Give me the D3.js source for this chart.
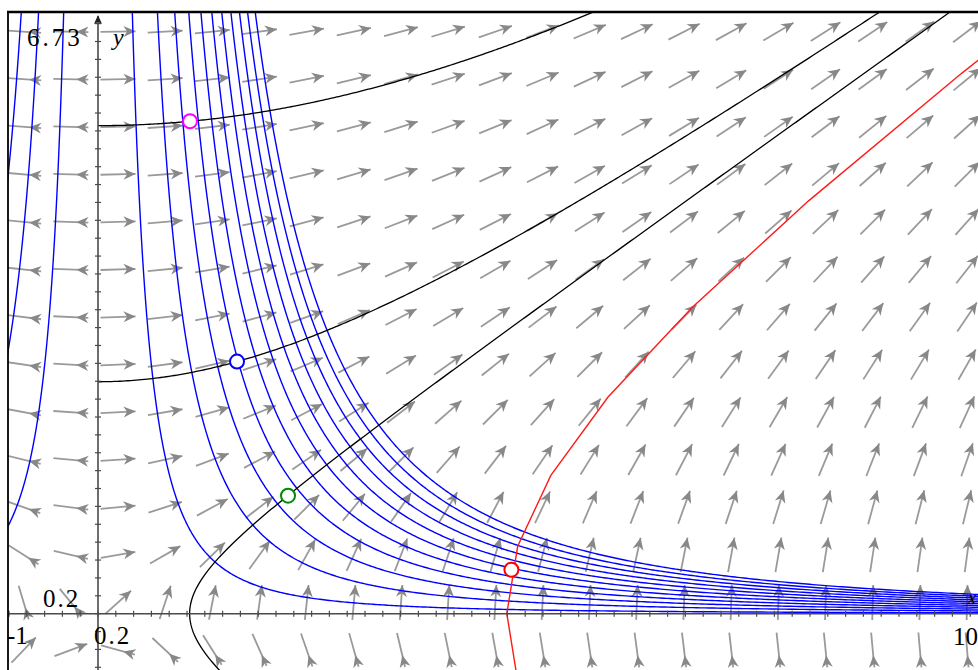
<!DOCTYPE html>
<html>
<head>
<meta charset="utf-8">
<script src="https://cdn.jsdelivr.net/npm/d3@7"></script>
<style>
  body { margin: 0; background: #fff; }
  svg { display: block; }
</style>
</head>
<body>
<script>
// window
const xDomain = [-1, 10];
const yDomain = [-0.63, 6.73];

// blue family: x^2 * y = c
const blueLevels = [1, 3, 5, 7, 9, 11, 13, 15, 17, 19, 21];
// black trajectories: y^2 - x^2/2 = C
const blackLevels = [29.8, 6.73, -0.53];
// red trajectory, same family
const redLevel = -10.55;

// direction field sample points
const gridX = [-0.835, -0.305, 0.225, 0.755, 1.285, 1.815, 2.345, 2.875, 3.405, 3.935, 4.465,
               4.995, 5.525, 6.055, 6.585, 7.115, 7.645, 8.175, 8.705, 9.235, 9.765];
const gridY = [6.51, 5.978, 5.446, 4.914, 4.382, 3.85, 3.318, 2.786, 2.254, 1.722, 1.19, 0.658, 0.126, -0.406];

// marked points
const pointX = [1.034, 1.562, 2.135, 4.645];
const pointY = [5.508, 2.82, 1.32, 0.492];
const pointColors = ['#ff00ff', '#0000ff', '#008c00', '#ff0000'];

// window labels
const xMinLabel = '-1', xMaxLabel = '10', yMaxLabel = '6.73', scaleLabel = '0.2';

const width = 978, height = 670;
const plot = { left: 8, top: 12, right: 978, bottom: 670 };

const svg = d3.select('body').append('svg').attr('width', width).attr('height', height);

const x = d3.scaleLinear().domain(xDomain).range([9, 988]);
const y = d3.scaleLinear().domain(yDomain).range([670, 12]);

svg.append('clipPath').attr('id', 'clip')
  .append('rect')
  .attr('x', plot.left).attr('y', plot.top)
  .attr('width', plot.right - plot.left).attr('height', plot.bottom - plot.top);

const g = svg.append('g').attr('clip-path', 'url(#clip)');

// direction field: x' = 2xy, y' = x^2
const field = (px, py) => [2 * px * py, px * px];

const arrows = [];
gridY.forEach((gy) => gridX.forEach((gx) => arrows.push({ gx, gy })));

const L = 35, headLen = 12, headHalf = 5.5;
const arrowG = g.append('g');
arrows.forEach((a) => {
  const [dx, dy] = field(a.gx, a.gy);
  let ux = x(a.gx + dx * 1e-3) - x(a.gx);
  let uy = y(a.gy + dy * 1e-3) - y(a.gy);
  const n = Math.hypot(ux, uy);
  ux /= n; uy /= n;
  const sgn = ux >= 0 ? 1 : -1;
  const wx = ux * sgn, wy = uy * sgn;
  const cx = x(a.gx), cy = y(a.gy);
  const p1 = [cx - wx * L / 2, cy - wy * L / 2];
  const p2 = [cx + wx * L / 2, cy + wy * L / 2];
  let tip, base;
  if (sgn > 0) {
    tip = p2; base = [p2[0] - wx * headLen, p2[1] - wy * headLen];
  } else {
    base = p2; tip = [p2[0] - wx * headLen, p2[1] - wy * headLen];
  }
  const px = -uy, py = ux;
  const notch = [base[0] + (tip[0] - base[0]) * 0.3, base[1] + (tip[1] - base[1]) * 0.3];
  arrowG.append('line')
    .attr('x1', p1[0]).attr('y1', p1[1]).attr('x2', p2[0]).attr('y2', p2[1])
    .attr('stroke', '#9a9a9a').attr('stroke-width', 1.8);
  arrowG.append('path')
    .attr('d', `M${tip}L${base[0] + px * headHalf},${base[1] + py * headHalf}L${notch}L${base[0] - px * headHalf},${base[1] - py * headHalf}Z`)
    .attr('fill', '#888');
});

const line = d3.line().x((d) => x(d[0])).y((d) => y(d[1]));

// blue curves y = c / x^2, both sides
blueLevels.forEach((c) => {
  [-1, 1].forEach((s) => {
    const x0 = Math.sqrt(c / 6.9);
    const pts = d3.range(0, 401).map((i) => {
      const xv = s * x0 * Math.exp(i / 400 * Math.log(10.3 / x0));
      return [xv, c / (xv * xv)];
    });
    g.append('path').datum(pts).attr('d', line)
      .attr('fill', 'none').attr('stroke', '#0000ff').attr('stroke-width', 1.4);
  });
});

// axes
const axisColor = '#4a4a4a';
const axG = svg.append('g');
axG.append('line').attr('x1', plot.left).attr('x2', plot.right).attr('y1', y(0)).attr('y2', y(0))
  .attr('stroke', axisColor).attr('stroke-width', 1.6);
axG.append('line').attr('x1', x(0)).attr('x2', x(0)).attr('y1', plot.top + 4).attr('y2', plot.bottom)
  .attr('stroke', axisColor).attr('stroke-width', 1.6);
axG.append('path')
  .attr('d', `M${x(0)},${plot.top + 3}l-4,9l4,-2l4,2Z`).attr('fill', '#222');
axG.selectAll('.xt').data(d3.range(-5, 51).map((k) => k * 0.2)).enter().append('line')
  .attr('x1', (d) => x(d)).attr('x2', (d) => x(d)).attr('y1', y(0) - 3).attr('y2', y(0) + 3)
  .attr('stroke', axisColor).attr('stroke-width', 1.2);
axG.selectAll('.yt').data(d3.range(-3, 34).map((k) => k * 0.2)).enter().append('line')
  .attr('x1', x(0) - 3).attr('x2', x(0) + 3).attr('y1', (d) => y(d)).attr('y2', (d) => y(d))
  .attr('stroke', axisColor).attr('stroke-width', 1.2);

// black trajectories
blackLevels.forEach((C) => {
  let pts;
  if (C > 0) {
    const xe = Math.sqrt(2 * (7 * 7 - C));
    pts = d3.range(0, 301).map((i) => { const xv = xe * i / 300; return [xv, Math.sqrt(C + xv * xv / 2)]; });
  } else {
    pts = d3.range(0, 401).map((i) => { const yv = -0.8 + 7.8 * i / 400; return [Math.sqrt(2 * (yv * yv - C)), yv]; });
  }
  g.append('path').datum(pts).attr('d', line)
    .attr('fill', 'none').attr('stroke', '#000').attr('stroke-width', 1.3);
});

// red trajectory, coarse steps
const a = Math.sqrt(-2 * redLevel);
const redPts = d3.range(-2, 9).map((k) => {
  const t = k * 0.23;
  return [a * Math.cosh(t), a / Math.SQRT2 * Math.sinh(t)];
});
g.append('path').datum(redPts).attr('d', line)
  .attr('fill', 'none').attr('stroke', '#ff1a1a').attr('stroke-width', 1.4);

// marked points
g.selectAll('.pt').data(pointX).enter().append('circle')
  .attr('cx', (d) => x(d)).attr('cy', (d, i) => y(pointY[i])).attr('r', 7)
  .attr('fill', '#fff').attr('stroke', (d, i) => pointColors[i]).attr('stroke-width', 2);

// frame
svg.append('line').attr('x1', plot.left - 1).attr('x2', plot.right).attr('y1', plot.top).attr('y2', plot.top)
  .attr('stroke', '#000').attr('stroke-width', 2.3);
svg.append('line').attr('x1', plot.left).attr('x2', plot.left).attr('y1', plot.top).attr('y2', plot.bottom)
  .attr('stroke', '#000').attr('stroke-width', 1.8);

// labels
const font = "'Liberation Serif', 'DejaVu Serif', serif";
const label = (txt, lx, ly, opts = {}) => svg.append('text').text(txt)
  .attr('x', lx).attr('y', ly).attr('font-family', font).attr('font-size', opts.size || 24)
  .attr('font-style', opts.italic ? 'italic' : 'normal')
  .attr('letter-spacing', opts.ls || 0)
  .attr('fill', '#000');
label(yMaxLabel, 27, 46, { size: 25, ls: 3 });
label('y', 113, 45, { italic: true, size: 24 });
label(scaleLabel, 43, 607, { size: 25, ls: 2 });
label(scaleLabel, 94, 644, { size: 25, ls: 2 });
label(xMinLabel, 7, 644, { size: 25 });
label(xMaxLabel, 953, 645, { size: 25 });
label('x', 968, 604, { italic: true, size: 18 });
</script>
</body>
</html>
